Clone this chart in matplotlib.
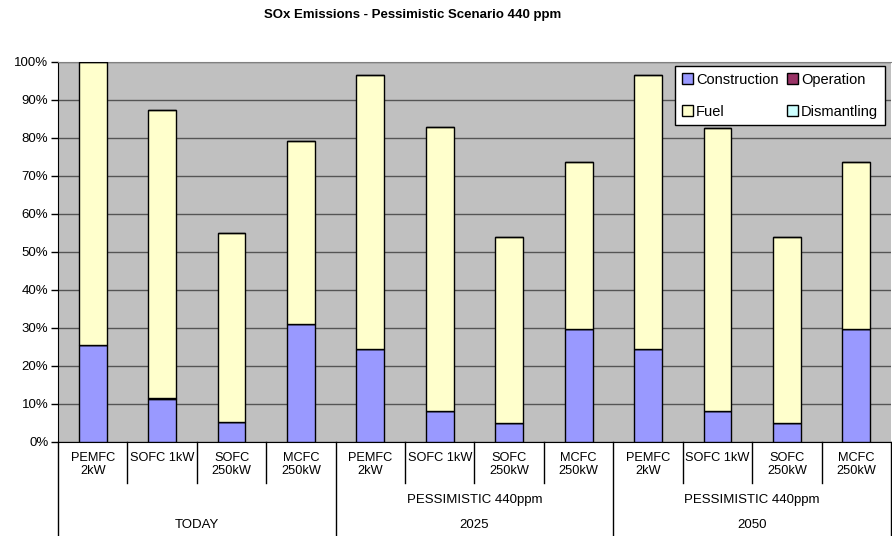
import numpy as np
import matplotlib.pyplot as plt
from matplotlib.patches import Patch

plt.rcParams['font.family'] = ['Liberation Sans', 'DejaVu Sans']

# categories (three-level axis)
systems = ["PEMFC\n2kW", "SOFC 1kW", "SOFC\n250kW", "MCFC\n250kW"] * 3
scenarios = ["", "PESSIMISTIC 440ppm", "PESSIMISTIC 440ppm"]
years = ["TODAY", "2025", "2050"]

# shares in percent
construction = [25.6, 11.4, 5.3, 31.1, 24.5, 8.2, 5.1, 29.7, 24.5, 8.2, 5.1, 29.7]
operation = [0, 0.15, 0, 0, 0, 0, 0, 0, 0, 0, 0, 0]
fuel = [74.4, 75.85, 49.7, 48.1, 72.2, 74.6, 48.8, 43.9, 72.2, 74.5, 48.8, 43.9]
dismantling = [0] * 12

colors = {"Construction": "#9999FF", "Operation": "#993366",
          "Fuel": "#FFFFCC", "Dismantling": "#CCFFFF"}

fig = plt.figure(figsize=(8.92, 5.36), dpi=100)
ax = fig.add_axes([58 / 892, 94 / 536, 833 / 892, 380 / 536])
ax.set_facecolor("#C0C0C0")

x = np.arange(len(systems))
bottom = np.zeros(len(x))
for name, vals in [("Construction", construction), ("Operation", operation),
                   ("Fuel", fuel), ("Dismantling", dismantling)]:
    vals = np.array(vals, dtype=float)
    ax.bar(x, vals, 0.4, bottom=bottom, color=colors[name],
           edgecolor="black", linewidth=1, zorder=3)
    bottom += vals

ax.set_xlim(-0.5, len(x) - 0.5)
ax.set_ylim(0, 100)
ax.set_yticks(np.arange(0, 101, 10))
ax.set_yticklabels([f"{v}%" for v in range(0, 101, 10)], fontsize=9.5)
ax.tick_params(axis="y", direction="out", length=5, width=1, pad=2)
ax.grid(axis="y", color="#555555", linewidth=1, zorder=1)
ax.set_xticks([])

ax.spines["right"].set_visible(False)
ax.spines["top"].set_color("#808080")
ax.spines["left"].set_color("black")
ax.spines["bottom"].set_color("black")

# multi-level category axis
tr = ax.get_xaxis_transform()
px = 1 / 380
for i in range(1, len(x)):
    if i % 4 == 0:
        continue
    ax.plot([i - 0.5, i - 0.5], [0, -41 * px], color="black", lw=1,
            transform=tr, clip_on=False)
for g in range(4):
    ax.plot([g * 4 - 0.5, g * 4 - 0.5], [0, -94 * px], color="black", lw=1,
            transform=tr, clip_on=False)
for i, lab in enumerate(systems):
    ax.text(i, -10 * px, lab, transform=tr, ha="center", va="top",
            fontsize=9.2, linespacing=1.1)
for g in range(3):
    cx = g * 4 + 1.5
    if scenarios[g]:
        ax.text(cx, -58 * px, scenarios[g], transform=tr, ha="center",
                va="center", fontsize=9.5)
    ax.text(cx, -83 * px, years[g], transform=tr, ha="center",
            va="center", fontsize=9.5)

handles = [Patch(facecolor=colors[n], edgecolor="black", label=n)
           for n in ["Construction", "Fuel", "Operation", "Dismantling"]]
leg = fig.legend(handles=handles, ncol=2, loc="upper left",
                 bbox_to_anchor=(675 / 892, 1 - 66 / 536), fontsize=10.5,
                 handlelength=0.75, handleheight=0.75, handletextpad=0.25,
                 columnspacing=0.55, labelspacing=1.25, borderpad=0.45,
                 frameon=True, fancybox=False, framealpha=1, borderaxespad=0)
leg.get_frame().set_edgecolor("black")
leg.get_frame().set_linewidth(1)

fig.text(413 / 892, 1 - 15 / 536, "SOx Emissions - Pessimistic Scenario 440 ppm",
         ha="center", va="center", fontsize=9.5, fontweight="bold")

fig.savefig("out.png", dpi=100)
